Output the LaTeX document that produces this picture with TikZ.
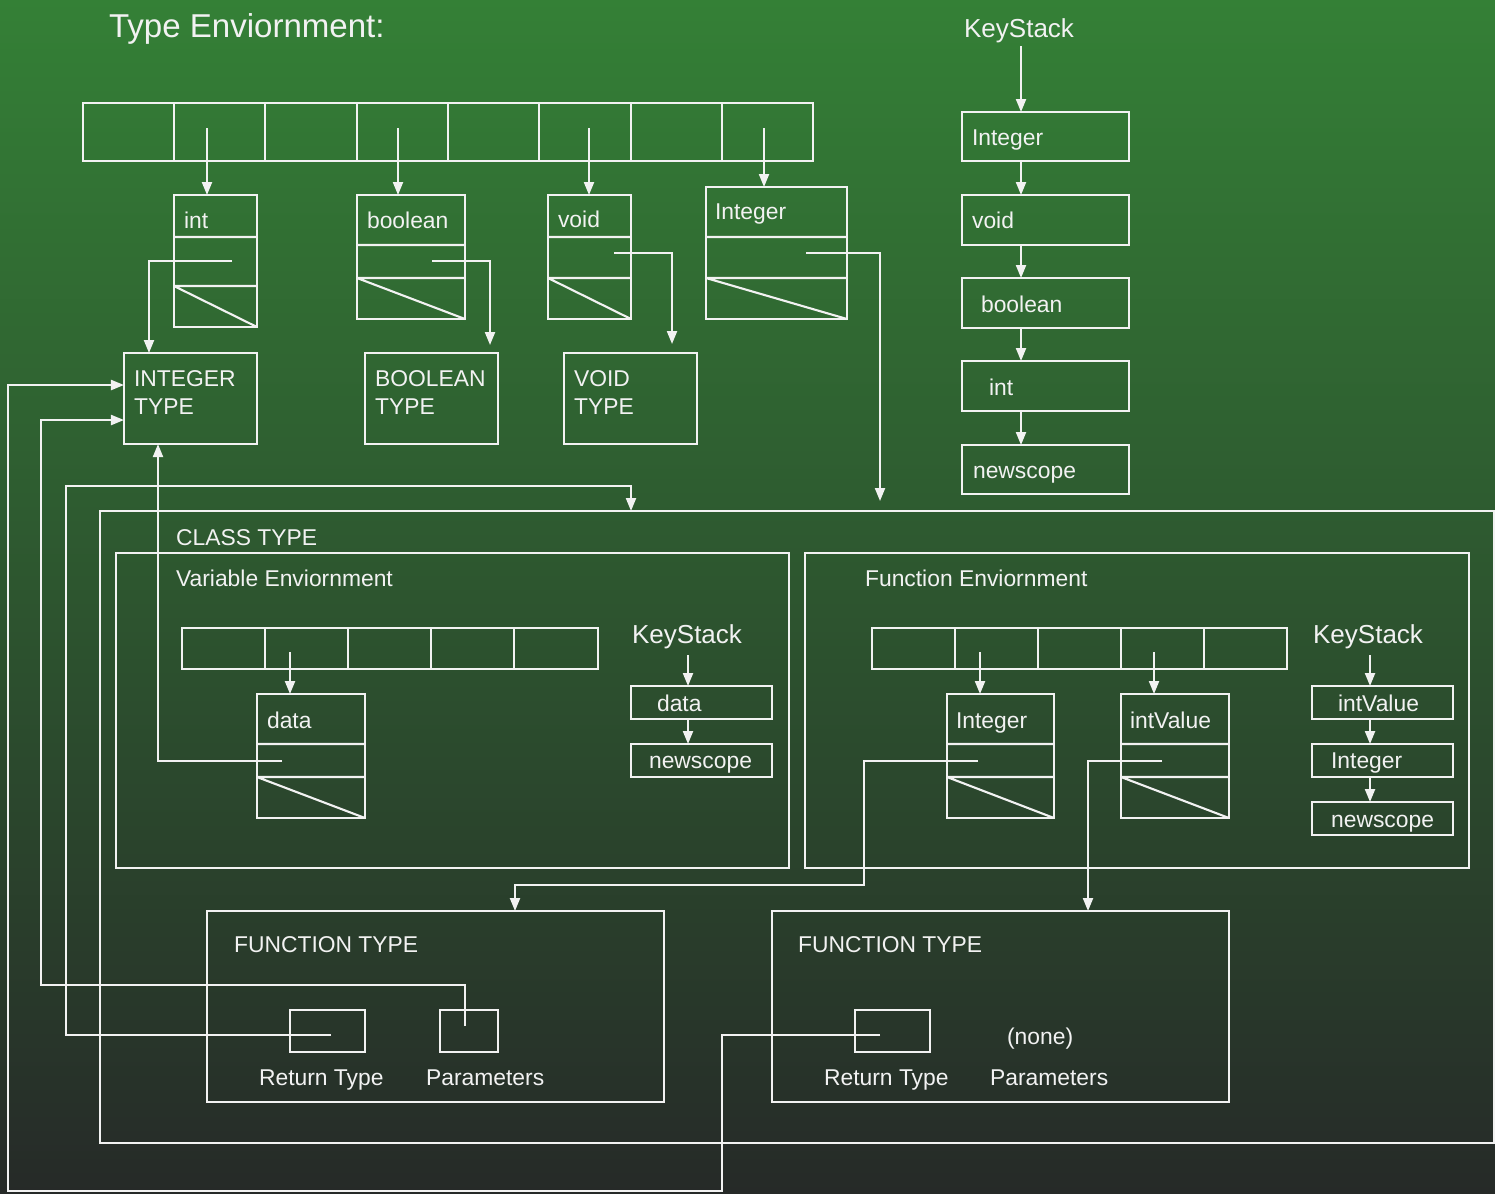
\documentclass[tikz,border=0pt]{standalone}
\usepackage{fontspec}
\setmainfont{Liberation Sans}
\usetikzlibrary{arrows.meta}
\definecolor{bgtop}{RGB}{52,128,54}
\definecolor{bgbottom}{RGB}{38,42,40}
\definecolor{ink}{RGB}{242,242,242}
\tikzstyle{every path}=[line width=0.6pt]
\tikzstyle{frame}=[draw, anchor=north west, inner sep=0pt, outer sep=0pt]
\tikzstyle{tag}=[anchor=base west, inner sep=0pt, font=\fontsize{6.5}{7.8}\selectfont]
\tikzstyle{bigtag}=[tag, font=\fontsize{7.4}{8.9}\selectfont]
\tikzstyle{ptr}=[-{Triangle[length=0.13cm,width=0.1cm]}]

\begin{document}
\begin{tikzpicture}[x=0.01cm, y=-0.01cm, color=ink]
            \useasboundingbox (0,0) rectangle (1495,1193);
            \shade[top color=bgtop, bottom color=bgbottom] (0,0) rectangle (1495,1193);

            \node[anchor=base west, inner sep=0pt, font=\fontsize{9.4}{11}\selectfont] (title) at (108,37) {Type Enviornment:};

            % type table
            \node[frame, minimum width=7.30cm, minimum height=0.58cm] (tarr) at (83,103) {};
            \draw (174,103) -- (174,161) (265,103) -- (265,161) (357,103) -- (357,161)
                  (448,103) -- (448,161) (539,103) -- (539,161) (631,103) -- (631,161)
                  (722,103) -- (722,161);

            \node[frame, minimum width=0.83cm, minimum height=1.32cm] (e-int) at (174,195) {};
            \draw (174,237) -- (257,237) (174,286) -- (257,286) (174,286) -- (257,327);
            \node[tag] (l-int) at (183,228) {int};
            \node[frame, minimum width=1.08cm, minimum height=1.24cm] (e-bool) at (357,195) {};
            \draw (357,245) -- (465,245) (357,278) -- (465,278) (357,278) -- (465,319);
            \node[tag] (l-bool) at (366,228) {boolean};
            \node[frame, minimum width=0.83cm, minimum height=1.24cm] (e-void) at (548,195) {};
            \draw (548,237) -- (631,237) (548,278) -- (631,278) (548,278) -- (631,319);
            \node[tag] (l-void) at (557,227) {void};
            \node[frame, minimum width=1.41cm, minimum height=1.32cm] (e-Int) at (706,187) {};
            \draw (706,237) -- (847,237) (706,278) -- (847,278) (706,278) -- (847,319);
            \node[tag] (l-Int) at (714,219) {Integer};

            \draw[ptr] (207,128) -- (207,0 |- e-int.north);
            \draw[ptr] (398,128) -- (398,0 |- e-bool.north);
            \draw[ptr] (589,128) -- (589,0 |- e-void.north);
            \draw[ptr] (764,128) -- (764,0 |- e-Int.north);

            \node[frame, minimum width=1.33cm, minimum height=0.91cm] (t-int) at (124,353) {};
            \node[tag] (l-tint1) at (133,386) {INTEGER};
            \node[tag] (l-tint2) at (133,414) {TYPE};
            \node[frame, minimum width=1.33cm, minimum height=0.91cm] (t-bool) at (365,353) {};
            \node[tag] (l-tbool1) at (374,386) {BOOLEAN};
            \node[tag] (l-tbool2) at (374,414) {TYPE};
            \node[frame, minimum width=1.33cm, minimum height=0.91cm] (t-void) at (564,353) {};
            \node[tag] (l-tvoid1) at (573,386) {VOID};
            \node[tag] (l-tvoid2) at (573,414) {TYPE};

            \coordinate (p-int) at (232,261);
            \coordinate (p-bool) at (432,261);
            \coordinate (p-void) at (614,253);
            \coordinate (p-Int) at (806,253);
            \coordinate (tip-bool) at (490,345);
            \coordinate (tip-void) at (672,344);
            \coordinate (tip-Int) at (880,501);
            \draw[ptr] (p-int) -- (149,261) -- (149,0 |- t-int.north);
            \draw[ptr] (p-bool) -- (490,261) -- (tip-bool);
            \draw[ptr] (p-void) -- (672,253) -- (tip-void);
            \draw[ptr] (p-Int) -- (880,253) -- (tip-Int);

            % key stack
            \node[bigtag] (ks) at (963,37) {KeyStack};
            \node[frame, minimum width=1.67cm, minimum height=0.49cm] (k-Int) at (962,112) {};
            \node[frame, minimum width=1.67cm, minimum height=0.50cm] (k-void) at (962,195) {};
            \node[frame, minimum width=1.67cm, minimum height=0.50cm] (k-bool) at (962,278) {};
            \node[frame, minimum width=1.67cm, minimum height=0.50cm] (k-int) at (962,361) {};
            \node[frame, minimum width=1.67cm, minimum height=0.49cm] (k-new) at (962,445) {};
            \node[tag] (l-kInt) at (971,145) {Integer};
            \node[tag] (l-kvoid) at (971,228) {void};
            \node[tag] (l-kbool) at (980,312) {boolean};
            \node[tag] (l-kint) at (988,395) {int};
            \node[tag] (l-knew) at (972,478) {newscope};
            \coordinate (ks-out) at (1021,46);
            \draw[ptr] (ks-out) -- (1021,0 |- k-Int.north);
            \draw[ptr] (1021,0 |- k-Int.south) -- (1021,0 |- k-void.north);
            \draw[ptr] (1021,0 |- k-void.south) -- (1021,0 |- k-bool.north);
            \draw[ptr] (1021,0 |- k-bool.south) -- (1021,0 |- k-int.north);
            \draw[ptr] (1021,0 |- k-int.south) -- (1021,0 |- k-new.north);

            % class type
            \node[frame, minimum width=13.93cm, minimum height=6.32cm] (c-box) at (100,511) {};
            \node[tag] (l-class) at (175,545) {CLASS TYPE};

            \node[frame, minimum width=6.73cm, minimum height=3.15cm] (v-box) at (116,553) {};
            \node[tag] (l-venv) at (175,586) {Variable Enviornment};
            \node[frame, minimum width=4.16cm, minimum height=0.41cm] (v-arr) at (182,628) {};
            \draw (265,628) -- (265,669) (348,628) -- (348,669) (431,628) -- (431,669) (514,628) -- (514,669);
            \node[frame, minimum width=1.08cm, minimum height=1.24cm] (v-data) at (257,694) {};
            \draw (257,744) -- (365,744) (257,777) -- (365,777) (257,777) -- (365,818);
            \node[tag] (l-vdata) at (266,728) {data};
            \draw[ptr] (290,652) -- (290,0 |- v-data.north);
            \node[bigtag] (vks) at (631,643) {KeyStack};
            \node[frame, minimum width=1.41cm, minimum height=0.33cm] (vk-data) at (631,686) {};
            \node[frame, minimum width=1.41cm, minimum height=0.33cm] (vk-new) at (631,744) {};
            \node[tag] (l-vkdata) at (656,711) {data};
            \node[tag] (l-vknew) at (648,768) {newscope};
            \coordinate (vks-out) at (688,655);
            \draw[ptr] (vks-out) -- (688,0 |- vk-data.north);
            \draw[ptr] (688,0 |- vk-data.south) -- (688,0 |- vk-new.north);
            \coordinate (p-data) at (282,761);
            \draw[ptr] (p-data) -- (158,761) -- (158,0 |- t-int.south);

            \node[frame, minimum width=6.64cm, minimum height=3.15cm] (f-box) at (805,553) {};
            \node[tag] (l-fenv) at (864,586) {Function Enviornment};
            \node[frame, minimum width=4.15cm, minimum height=0.41cm] (f-arr) at (872,628) {};
            \draw (955,628) -- (955,669) (1038,628) -- (1038,669) (1121,628) -- (1121,669) (1204,628) -- (1204,669);
            \node[frame, minimum width=1.07cm, minimum height=1.24cm] (f-Int) at (947,694) {};
            \draw (947,744) -- (1054,744) (947,777) -- (1054,777) (947,777) -- (1054,818);
            \node[tag] (l-fInt) at (955,728) {Integer};
            \node[frame, minimum width=1.08cm, minimum height=1.24cm] (f-iv) at (1121,694) {};
            \draw (1121,744) -- (1229,744) (1121,777) -- (1229,777) (1121,777) -- (1229,818);
            \node[tag] (l-fiv) at (1129,728) {intValue};
            \draw[ptr] (980,652) -- (980,0 |- f-Int.north);
            \draw[ptr] (1154,652) -- (1154,0 |- f-iv.north);
            \node[bigtag] (fks) at (1312,643) {KeyStack};
            \node[frame, minimum width=1.41cm, minimum height=0.33cm] (fk-iv) at (1312,686) {};
            \node[frame, minimum width=1.41cm, minimum height=0.33cm] (fk-Int) at (1312,744) {};
            \node[frame, minimum width=1.41cm, minimum height=0.33cm] (fk-new) at (1312,802) {};
            \node[tag] (l-fkiv) at (1337,711) {intValue};
            \node[tag] (l-fkInt) at (1330,768) {Integer};
            \node[tag] (l-fknew) at (1330,827) {newscope};
            \coordinate (fks-out) at (1370,655);
            \draw[ptr] (fks-out) -- (1370,0 |- fk-iv.north);
            \draw[ptr] (1370,0 |- fk-iv.south) -- (1370,0 |- fk-Int.north);
            \draw[ptr] (1370,0 |- fk-Int.south) -- (1370,0 |- fk-new.north);

            % function types
            \node[frame, minimum width=4.57cm, minimum height=1.91cm] (ft1) at (207,911) {};
            \node[tag] (l-ft1) at (233,952) {FUNCTION TYPE};
            \node[frame, minimum width=0.75cm, minimum height=0.42cm] (r1) at (290,1010) {};
            \node[frame, minimum width=0.58cm, minimum height=0.42cm] (pa1) at (440,1010) {};
            \node[tag] (l-r1) at (258,1085) {Return Type};
            \node[tag] (l-pa1) at (425,1085) {Parameters};

            \node[frame, minimum width=4.57cm, minimum height=1.91cm] (ft2) at (772,911) {};
            \node[tag] (l-ft2) at (797,952) {FUNCTION TYPE};
            \node[frame, minimum width=0.75cm, minimum height=0.42cm] (r2) at (855,1010) {};
            \node[tag] (l-none) at (1006,1044) {(none)};
            \node[tag] (l-r2) at (823,1085) {Return Type};
            \node[tag] (l-pa2) at (989,1085) {Parameters};

            \coordinate (p-fInt) at (978,761);
            \coordinate (p-fiv) at (1162,761);
            \draw[ptr] (p-fInt) -- (864,761) -- (864,885) -- (515,885) -- (515,0 |- ft1.north);
            \draw[ptr] (p-fiv) -- (1088,761) -- (1088,0 |- ft2.north);

            \coordinate (p-r1) at (331,1035);
            \coordinate (p-pa1) at (465,1026);
            \coordinate (p-r2) at (880,1035);
            \draw[ptr] (p-r1) -- (66,1035) -- (66,486) -- (631,486) -- (631,0 |- c-box.north);
            \draw[ptr] (p-pa1) -- (465,985) -- (41,985) -- (41,420) -- (t-int.west |- 0,420);
            \draw[ptr] (p-r2) -- (722,1035) -- (722,1191) -- (8,1191) -- (8,385) -- (t-int.west |- 0,385);
        \end{tikzpicture}
\end{document}
